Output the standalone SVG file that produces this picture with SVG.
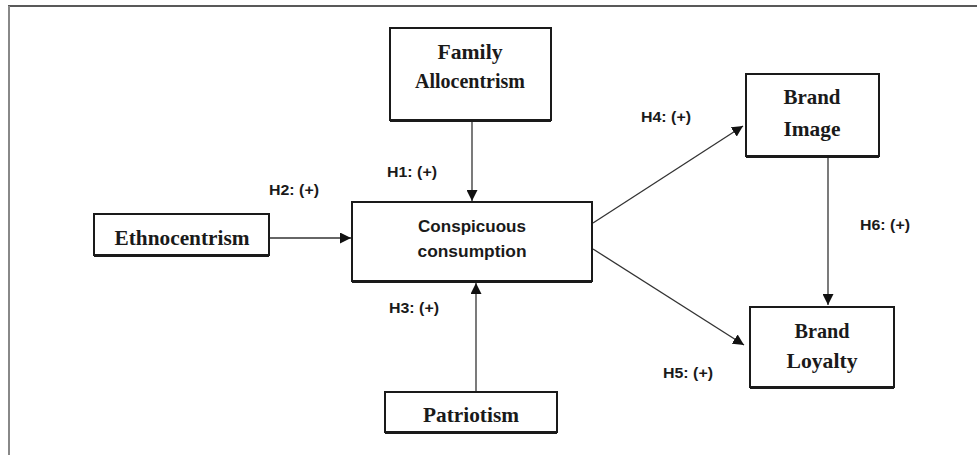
<svg xmlns="http://www.w3.org/2000/svg" width="978" height="455" viewBox="0 0 978 455">
<defs>
<marker id="ah" viewBox="0 0 10 10" refX="10" refY="5" markerWidth="11" markerHeight="11" markerUnits="userSpaceOnUse" orient="auto">
<path d="M0,0 L10,5 L0,10 z" fill="#111"/>
</marker>
<style>
.box{fill:#fff;stroke:#1a1a1a;stroke-width:2}
.sh{stroke:#1a1a1a;stroke-width:2}
.ser{font-family:"Liberation Serif","DejaVu Serif",serif;font-weight:bold;font-size:21px;fill:#1a1a1a;text-anchor:middle}
.san{font-family:"Liberation Sans",Arial,sans-serif;font-weight:bold;font-size:17px;fill:#1a1a1a;text-anchor:middle}
.lab{font-family:"Liberation Sans",Arial,sans-serif;font-weight:bold;font-size:15px;fill:#1a1a1a}
.con{stroke:#333;stroke-width:1.3;fill:none;marker-end:url(#ah)}
</style>
</defs>
<rect width="978" height="455" fill="#fff"/>
<line x1="8" y1="6" x2="977" y2="6" stroke="#222" stroke-width="1.5"/>
<line x1="9" y1="6" x2="9" y2="455" stroke="#888" stroke-width="2"/>
<g id="connectors">
<line class="con" x1="472" y1="121" x2="472" y2="201"/>
<line class="con" x1="269" y1="238" x2="351" y2="238"/>
<line class="con" x1="476" y1="392" x2="476" y2="283"/>
<line class="con" x1="593" y1="223" x2="743" y2="126"/>
<line class="con" x1="593" y1="249" x2="744" y2="345"/>
<line class="con" x1="828" y1="157" x2="828" y2="305"/>
</g>
<g id="labels">
<text class="lab" x="269" y="195" textLength="50" lengthAdjust="spacingAndGlyphs">H2: (+)</text>
<text class="lab" x="387" y="177" textLength="50" lengthAdjust="spacingAndGlyphs">H1: (+)</text>
<text class="lab" x="389" y="313" textLength="50" lengthAdjust="spacingAndGlyphs">H3: (+)</text>
<text class="lab" x="641" y="122" textLength="50" lengthAdjust="spacingAndGlyphs">H4: (+)</text>
<text class="lab" x="663" y="378" textLength="50" lengthAdjust="spacingAndGlyphs">H5: (+)</text>
<text class="lab" x="860" y="230" textLength="50" lengthAdjust="spacingAndGlyphs">H6: (+)</text>
</g>
<g id="family">
<rect class="box" x="390" y="28" width="161" height="92"/>
<line class="sh" x1="390" y1="121" x2="551" y2="121"/>
<text class="ser" x="470" y="59" textLength="65" lengthAdjust="spacingAndGlyphs">Family</text>
<text class="ser" x="470" y="88" textLength="110" lengthAdjust="spacingAndGlyphs">Allocentrism</text>
</g>
<g id="ethnocentrism">
<rect class="box" x="94" y="214" width="175" height="41"/>
<line class="sh" x1="94" y1="256" x2="269" y2="256"/>
<text class="ser" x="182" y="245" textLength="135" lengthAdjust="spacingAndGlyphs">Ethnocentrism</text>
</g>
<g id="conspicuous">
<rect class="box" x="352" y="202" width="240" height="79"/>
<line class="sh" x1="352" y1="282" x2="592" y2="282"/>
<text class="san" x="472" y="232" textLength="108" lengthAdjust="spacingAndGlyphs">Conspicuous</text>
<text class="san" x="472" y="257" textLength="109" lengthAdjust="spacingAndGlyphs">consumption</text>
</g>
<g id="patriotism">
<rect class="box" x="385" y="392" width="172" height="40"/>
<line class="sh" x1="385" y1="433" x2="557" y2="433"/>
<text class="ser" x="471" y="422" textLength="96" lengthAdjust="spacingAndGlyphs">Patriotism</text>
</g>
<g id="brand-image">
<rect class="box" x="746" y="74" width="133" height="82"/>
<line class="sh" x1="746" y1="157" x2="879" y2="157"/>
<text class="ser" x="812" y="104" textLength="57" lengthAdjust="spacingAndGlyphs">Brand</text>
<text class="ser" x="812" y="136" textLength="57" lengthAdjust="spacingAndGlyphs">Image</text>
</g>
<g id="brand-loyalty">
<rect class="box" x="750" y="307" width="144" height="80"/>
<line class="sh" x1="750" y1="388" x2="894" y2="388"/>
<text class="ser" x="822" y="338" textLength="55" lengthAdjust="spacingAndGlyphs">Brand</text>
<text class="ser" x="822" y="368" textLength="71" lengthAdjust="spacingAndGlyphs">Loyalty</text>
</g>
</svg>
